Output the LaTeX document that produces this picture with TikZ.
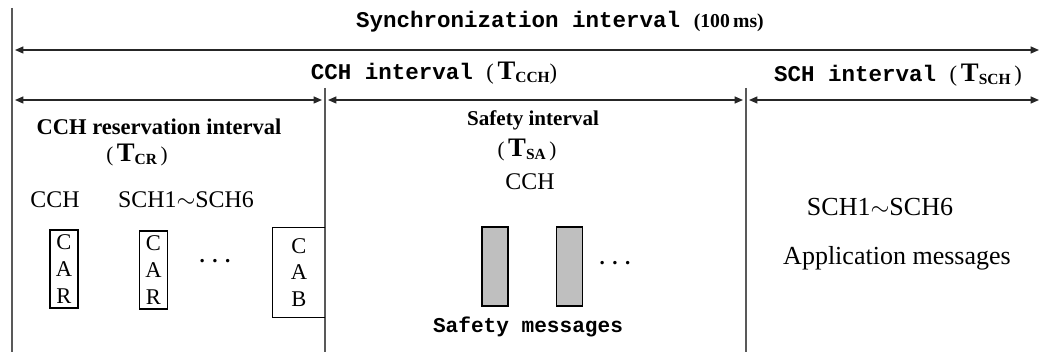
\documentclass[tikz,border=0pt]{standalone}
\usepackage{fontspec}
\setmainfont{Liberation Serif}
\setmonofont{Liberation Mono}
\usetikzlibrary{arrows.meta}

\newcommand{\tsym}[1]{{\fontsize{19}{19}\selectfont\textbf{T}}\raisebox{-0.15em}{\fontsize{11}{11}\selectfont\textbf{#1}}}
\newcommand{\dotrow}{\textbf{.\hspace{0.35em}.\hspace{0.35em}.}}

\tikzset{
  span/.style={{Triangle[length=6pt,width=5pt]}-{Triangle[length=6pt,width=5pt]}, line width=0.9pt, black!85},
  border/.style={line width=1pt, black!65},
  lbl/.style={font=\fontsize{17}{20}\selectfont, inner sep=0pt},
  mono/.style={font=\fontsize{15}{18}\selectfont\ttfamily\bfseries, inner sep=0pt},
  carbox/.style={draw, line width=0.8pt, minimum width=0.7cm, minimum height=1.95cm, inner sep=0pt, align=center, font=\fontsize{16}{19}\selectfont},
  msgbar/.style={draw, line width=0.8pt, fill=gray!50, minimum width=0.65cm, minimum height=1.975cm, inner sep=0pt}
}

\begin{document}
\begin{tikzpicture}[x=0.025cm, y=-0.025cm]
  \useasboundingbox (0,0) rectangle (1040,352);

  % borders
  \coordinate (b0t) at (12,8);    \coordinate (b0b) at (12,352);
  \coordinate (b1t) at (325,88);  \coordinate (b1b) at (325,352);
  \coordinate (b2t) at (746,88);  \coordinate (b2b) at (746,352);
  \draw [border] (b0t) -- (b0b);
  \draw [border] (b1t) -- (b1b);
  \draw [border] (b2t) -- (b2b);

  % synchronization interval
  \node (sync) at (560,22) {{\fontsize{16}{18}\selectfont\ttfamily\bfseries Synchronization interval\ }{\fontsize{14}{16}\selectfont\bfseries(100\,ms)}};
  \coordinate (syncL) at (15,50);  \coordinate (syncR) at (1039,50);
  \draw [span] (syncL) -- (syncR);

  % second row
  \node (cchint) at (434,73) {{\fontsize{16}{18}\selectfont\ttfamily\bfseries CCH interval\ }{\fontsize{16}{18}\selectfont(\,\tsym{CCH})}};
  \node (schint) at (898,75) {{\fontsize{16}{18}\selectfont\ttfamily\bfseries SCH interval\ }{\fontsize{16}{18}\selectfont(\,\tsym{SCH}\,)}};
  \coordinate (crL) at (15,100);  \coordinate (crR) at (322,100);
  \coordinate (saL) at (328,100); \coordinate (saR) at (743,100);
  \coordinate (scL) at (749,100); \coordinate (scR) at (1039,100);
  \draw [span] (crL) -- (crR);
  \draw [span] (saL) -- (saR);
  \draw [span] (scL) -- (scR);

  % reservation interval
  \node [lbl, font=\fontsize{16}{18}\selectfont\bfseries] (crname) at (159,127) {CCH reservation interval};
  \node [lbl, font=\fontsize{15}{18}\selectfont] (crsym) at (137,155) {(\,\tsym{CR}\,)};
  \node [lbl] (crcch) at (55,200) {CCH};
  \node [lbl] (crsch) at (186,200) {SCH1$\sim$SCH6};
  \node [carbox] (car1) at (64,269) {C\\A\\R};
  \node [carbox] (car2) at (153.5,270) {C\\A\\R};
  \node [lbl, font=\fontsize{15}{18}\selectfont] (crdots) at (215,261) {\dotrow};
  \node [minimum width=1.3cm, minimum height=2.225cm, inner sep=0pt, align=center, font=\fontsize{16}{19}\selectfont] (cab) at (299,272.5) {C\\A\\B};
  \draw [line width=0.8pt] (cab.north east) -- (cab.north west) -- (cab.south west) -- (cab.south east);

  % safety interval
  \node [lbl, font=\fontsize{15}{18}\selectfont\bfseries] (saname) at (533,120) {Safety interval};
  \node [lbl, font=\fontsize{15}{18}\selectfont] (sasym) at (527,150) {(\,\tsym{SA}\,)};
  \node [lbl] (sacch) at (530,182) {CCH};
  \node [msgbar] (msg1) at (495,266.5) {};
  \node [msgbar] (msg2) at (569.5,266.5) {};
  \node [lbl, font=\fontsize{15}{18}\selectfont] (sadots) at (615,263) {\dotrow};
  \node [mono] (samsg) at (528,327) {Safety messages};

  % sch interval
  \node [lbl, font=\fontsize{18.5}{21}\selectfont] (scsch) at (880,207) {SCH1$\sim$SCH6};
  \node [lbl, font=\fontsize{18.5}{21}\selectfont] (scmsg) at (897,258) {Application messages};
\end{tikzpicture}
\end{document}
